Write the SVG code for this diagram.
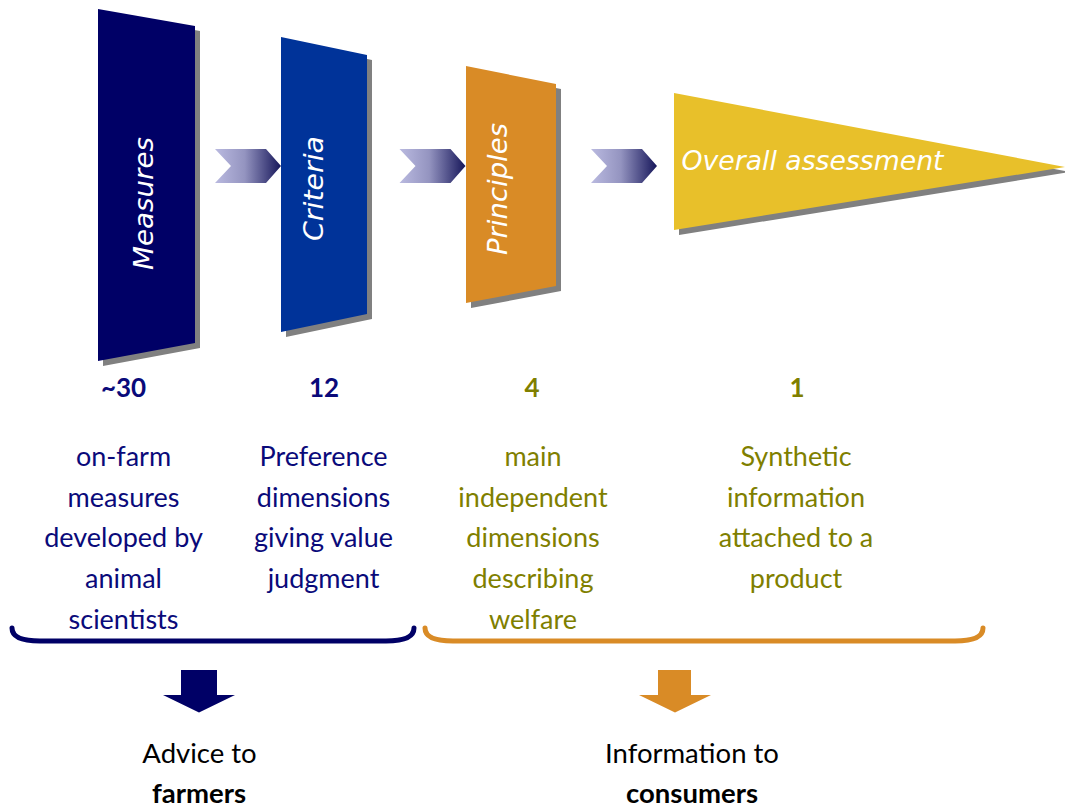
<svg xmlns="http://www.w3.org/2000/svg" width="1065" height="811" viewBox="0 0 1065 811">
<style>
.shadow{fill:#808080}
.title{font-family:"DejaVu Sans",sans-serif;font-style:italic;font-size:27px;fill:#ffffff}
.num{font-family:Lato,"Liberation Sans",sans-serif;font-weight:bold;font-size:26px;text-anchor:middle}
.body{font-family:Lato,"Liberation Sans",sans-serif;font-size:27px;text-anchor:middle}
.navy{fill:#0a0a7a}
.olive{fill:#7f7f00}
.foot{font-family:Lato,"Liberation Sans",sans-serif;font-size:27.5px;text-anchor:middle;fill:#000000}
.bold{font-weight:bold}
.brace{fill:none;stroke-width:5;stroke-linecap:round}
</style>
<defs>
<linearGradient id="chev" x1="0" y1="0" x2="1" y2="0">
<stop offset="0" stop-color="#babae0"/>
<stop offset="0.45" stop-color="#9494c0"/>
<stop offset="1" stop-color="#16165a"/>
</linearGradient>
<path id="chevron" d="M0,0 L51,0 L66,17 L51,34 L0,34 L16,17 Z"/>
</defs>

<g id="measures">
<polygon class="shadow" points="103,14 200,31 200,348 103,366"/>
<polygon fill="#000066" points="98,9 195,26 195,343 98,361"/>
<text class="title" transform="translate(153,203.5) rotate(-90)" text-anchor="middle" textLength="133" lengthAdjust="spacingAndGlyphs">Measures</text>
</g>

<g id="criteria">
<polygon class="shadow" points="286,42 372,60 372,319 286,337"/>
<polygon fill="#003399" points="281,37 367,55 367,314 281,332"/>
<text class="title" transform="translate(323,188.5) rotate(-90)" text-anchor="middle" textLength="105" lengthAdjust="spacingAndGlyphs">Criteria</text>
</g>

<g id="principles">
<polygon class="shadow" points="471,71 561,89 561,291 471,308"/>
<polygon fill="#d98b26" points="466,66 556,84 556,286 466,303"/>
<text class="title" transform="translate(507,189) rotate(-90)" text-anchor="middle" textLength="132" lengthAdjust="spacingAndGlyphs">Principles</text>
</g>

<g id="overall">
<polygon class="shadow" points="679,98 1070,172 679,235"/>
<polygon fill="#e8c02a" points="674,93 1065,167 674,230"/>
<text class="title" x="681.5" y="170" textLength="262" lengthAdjust="spacingAndGlyphs">Overall assessment</text>
</g>

<g id="connectors">
<use href="#chevron" x="215" y="149" fill="url(#chev)"/>
<use href="#chevron" x="399.5" y="149" fill="url(#chev)"/>
<use href="#chevron" x="591" y="149" fill="url(#chev)"/>
<path class="brace" stroke="#000066" d="M12,628 C12,636 20,641 40,641 L386,641 C406,641 414,636 414,628"/>
<path class="brace" stroke="#d98b26" d="M425,628 C425,636 433,641 453,641 L955,641 C975,641 983,636 983,628"/>
<polygon fill="#000066" points="181,670 217,670 217,695 235,695 199,712.5 163,695 181,695"/>
<polygon fill="#d98b26" points="658,670 691,670 691,695 711,695 675,712.5 639,695 658,695"/>
</g>

<g id="col-measures">
<text class="num navy" x="123.5" y="397">~30</text>
<text class="body navy" x="123.5" y="466">on-farm</text>
<text class="body navy" x="123.5" y="506.5">measures</text>
<text class="body navy" x="123.5" y="547">developed by</text>
<text class="body navy" x="123.5" y="588">animal</text>
<text class="body navy" x="123.5" y="629">scientists</text>
</g>

<g id="col-criteria">
<text class="num navy" x="324" y="397">12</text>
<text class="body navy" x="323.5" y="466">Preference</text>
<text class="body navy" x="323.5" y="506.5">dimensions</text>
<text class="body navy" x="323.5" y="547">giving value</text>
<text class="body navy" x="323.5" y="588">judgment</text>
</g>

<g id="col-principles">
<text class="num olive" x="532" y="397">4</text>
<text class="body olive" x="533" y="466">main</text>
<text class="body olive" x="533" y="506.5">independent</text>
<text class="body olive" x="533" y="547">dimensions</text>
<text class="body olive" x="533" y="588">describing</text>
<text class="body olive" x="533" y="629">welfare</text>
</g>

<g id="col-overall">
<text class="num olive" x="797" y="397">1</text>
<text class="body olive" x="796" y="466">Synthetic</text>
<text class="body olive" x="796" y="506.5">information</text>
<text class="body olive" x="796" y="547">attached to a</text>
<text class="body olive" x="796" y="588">product</text>
</g>

<g id="farmers">
<text class="foot" x="199.5" y="763">Advice to</text>
<text class="foot bold" x="199" y="803">farmers</text>
</g>

<g id="consumers">
<text class="foot" x="692" y="763">Information to</text>
<text class="foot bold" x="692" y="803">consumers</text>
</g>
</svg>
